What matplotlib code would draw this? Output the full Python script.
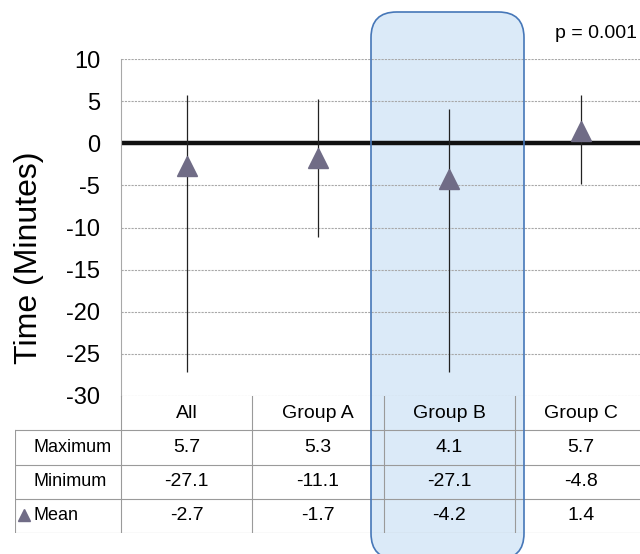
import matplotlib.pyplot as plt
from matplotlib.patches import FancyBboxPatch

plt.rcParams['font.family'] = ['Liberation Sans', 'DejaVu Sans']
plt.rcParams['axes.unicode_minus'] = False

# data
groups = ['All', 'Group A', 'Group B', 'Group C']
maximum = [5.7, 5.3, 4.1, 5.7]
minimum = [-27.1, -11.1, -27.1, -4.8]
mean = [-2.7, -1.7, -4.2, 1.4]
yticks = [10, 5, 0, -5, -10, -15, -20, -25, -30]
row_names = ['Maximum', 'Minimum', 'Mean']
p_text = 'p = 0.001'

W, H = 640, 554
fig = plt.figure(figsize=(W / 100, H / 100), dpi=100)

mark_col = '#706c86'
grid_col = '#a8a8a8'

# main plot, x in column units
x = list(range(len(groups)))
ax = fig.add_axes([121 / W, 1 - 396 / H, (W - 121) / W, (396 - 59) / H])
ax.set_facecolor('none')
ax.set_xlim(-0.5, 3.45)
ax.set_ylim(-30, 10)
ax.set_yticks(yticks)
ax.set_xticks([])
ax.tick_params(axis='y', length=0, pad=15, labelsize=17)
for s in ['top', 'right', 'bottom']:
    ax.spines[s].set_visible(False)
ax.spines['left'].set_color(grid_col)
ax.spines['left'].set_linewidth(0.8)
for t in yticks:
    ax.axhline(t, color=grid_col, lw=0.8, ls=(0, (2, 1)), zorder=1)
ax.axhline(0, color='#111111', lw=3.2, zorder=2)
ax.vlines(x, minimum, maximum, color='#222222', lw=0.9, zorder=3)
ax.plot(x, mean, ls='none', marker='^', ms=14, color=mark_col, zorder=4)
ax.set_ylabel('Time (Minutes)', fontsize=23)
ax.yaxis.set_label_coords(-0.148, 0.41)

# table below the plot (rows: header + 3)
tx0 = -0.5 - 106 / 131.4
tab = fig.add_axes([15 / W, 1 - 533 / H, (W - 15) / W, (533 - 396) / H])
tab.set_facecolor('none')
tab.set_xlim(tx0, 3.45)
tab.set_ylim(4, 0)
tab.axis('off')
lc = '#9a9a9a'
fs = 14
edges = [-0.5, 0.5, 1.5, 2.5]
for e in edges:
    tab.plot([e, e], [0, 4], color=lc, lw=0.8)
for i, g in enumerate(groups):
    tab.text(i, 0.5, g, ha='center', va='center', fontsize=fs)
for r in [1, 2, 3, 4]:
    tab.plot([tx0, 3.5], [r, r], color=lc, lw=0.8)
tab.plot([tx0, tx0], [1, 4], color=lc, lw=0.8)
rows = [maximum, minimum, mean]
for r, vals in enumerate(rows):
    for i, v in enumerate(vals):
        tab.text(i, r + 1.5, f'{v:.1f}', ha='center', va='center', fontsize=fs)
lx = tx0 + 19 / 131.4
for r, name in enumerate(row_names):
    tab.text(lx, r + 1.5, name, ha='left', va='center', fontsize=13)
tab.plot([tx0 + 9 / 131.4], [3.47], ls='none', marker='^', ms=9, color=mark_col)

fig.text(637 / W, 1 - 33 / H, p_text, ha='right', va='center', fontsize=14)

# highlight box around Group B
bx, bw, by, bh = 371 / W, 153 / W, -5 / H, (H - 12 + 5) / H
box = FancyBboxPatch((bx, by), bw, bh,
                     boxstyle='round,pad=0,rounding_size=0.04',
                     transform=fig.transFigure, mutation_aspect=W / H,
                     facecolor='#dbeaf8', edgecolor='none', zorder=-1)
edge = FancyBboxPatch((bx, by), bw, bh,
                      boxstyle='round,pad=0,rounding_size=0.04',
                      transform=fig.transFigure, mutation_aspect=W / H,
                      facecolor='none', edgecolor='#4677b8', lw=1.2, zorder=11)
fig.patches.extend([box, edge])

fig.savefig('out.png', dpi=100)
